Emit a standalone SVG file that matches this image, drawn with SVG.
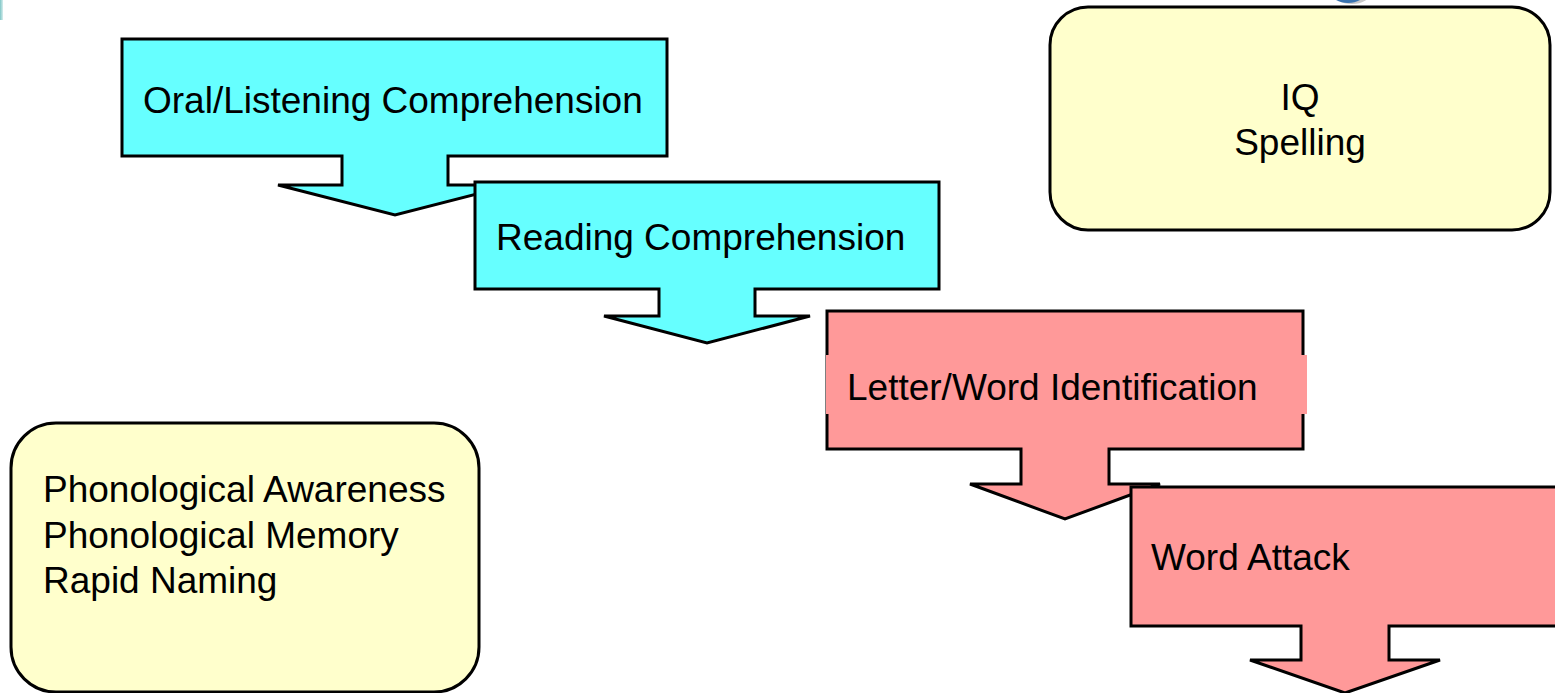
<svg xmlns="http://www.w3.org/2000/svg" width="1555" height="693" viewBox="0 0 1555 693">
<defs>
<style>
.cyan{fill:#66FFFF;stroke:#000;stroke-width:3;stroke-linejoin:miter}
.pink{fill:#FF9999;stroke:#000;stroke-width:3;stroke-linejoin:miter}
.note{fill:#FFFFCC;stroke:#000;stroke-width:3}
.t{font-family:"Liberation Sans",Arial,sans-serif;font-size:37px;fill:#000}
</style>
<linearGradient id="edge" x1="0" y1="0" x2="1" y2="0">
<stop offset="0" stop-color="#7fc6c6"/>
<stop offset="1" stop-color="#d8eeee"/>
</linearGradient>
</defs>
<rect width="1555" height="693" fill="#FFFFFF"/>
<g id="decor">
<rect x="0" y="0" width="3" height="20" fill="url(#edge)"/>
<ellipse cx="1352" cy="-8" rx="19" ry="12" fill="#c8c8c8"/>
<ellipse cx="1348" cy="-9" rx="18" ry="12" fill="#3a74b0"/>
</g>
<g id="connectors"></g>
<g id="oral">
<path class="cyan" d="M122,39 H667 V156 H448 V185 H512 L395,215 L278,185 H342 V156 H122 Z"/>
<text class="t" x="143" y="113">Oral/Listening Comprehension</text>
</g>
<g id="reading">
<path class="cyan" d="M475,182 H939 V289 H755 V316 H810 L707,343 L604,316 H659 V289 H475 Z"/>
<text class="t" x="496" y="250">Reading Comprehension</text>
</g>
<g id="letterword">
<path class="pink" d="M827,311 H1303 V449 H1109 V484 H1160 L1065,519 L970,484 H1021 V449 H827 Z"/>
<rect x="826" y="355" width="481" height="59" fill="#FF9999"/>
<text class="t" x="847" y="400">Letter/Word Identification</text>
</g>
<g id="wordattack">
<path class="pink" d="M1131,487 H1560 V626 H1389 V660 H1440 L1345,693 L1250,660 H1301 V626 H1131 Z"/>
<text class="t" x="1151" y="570">Word Attack</text>
</g>
<g id="iqspelling">
<rect class="note" x="1050" y="7" width="500" height="223" rx="38" ry="38"/>
<text class="t" x="1300" y="110" text-anchor="middle">IQ</text>
<text class="t" x="1300" y="155" text-anchor="middle">Spelling</text>
</g>
<g id="phonological">
<rect class="note" x="11" y="423" width="468" height="269" rx="45" ry="45"/>
<text class="t" x="43" y="502">Phonological Awareness</text>
<text class="t" x="43" y="548">Phonological Memory</text>
<text class="t" x="43" y="593">Rapid Naming</text>
</g>
</svg>
